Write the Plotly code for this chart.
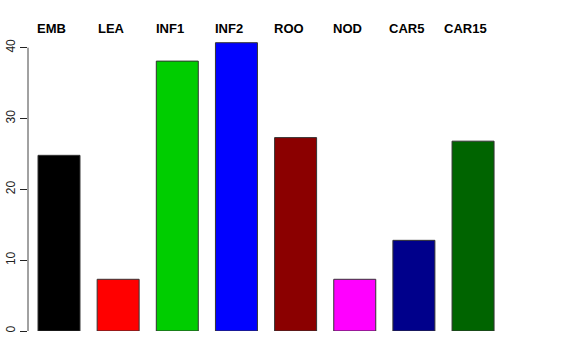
import plotly.graph_objects as go

categories = ["EMB", "LEA", "INF1", "INF2", "ROO", "NOD", "CAR5", "CAR15"]
values = [24.8, 7.3, 38.1, 40.7, 27.3, 7.3, 12.8, 26.8]
colors = ["#000000", "#FF0000", "#00CD00", "#0000FF", "#8B0000", "#FF00FF", "#00008B", "#006400"]
y_ticks = [0, 10, 20, 30, 40]

xpos = list(range(len(categories)))

fig = go.Figure()
fig.add_trace(go.Bar(
    x=xpos, y=values,
    marker=dict(color=colors, line=dict(color="#333333", width=1)),
    width=0.71,
    hoverinfo="skip",
))

for i, c in enumerate(categories):
    fig.add_annotation(
        x=i - 0.12, y=1.045, xref="x", yref="paper",
        text="<b>%s</b>" % c, showarrow=False,
        font=dict(family="Liberation Sans, Arial", size=13, color="black"),
        xanchor="center", yanchor="middle",
    )

# R-style axis line spanning only the tick range
fig.add_shape(type="line", xref="paper", yref="y", x0=0, x1=0,
              y0=y_ticks[0], y1=y_ticks[-1], line=dict(color="#444444", width=1))

fig.update_layout(
    width=576, height=360,
    margin=dict(l=28, r=16, t=42, b=29, autoexpand=False),
    plot_bgcolor="white", paper_bgcolor="white",
    showlegend=False,
    xaxis=dict(range=[-0.524, 8.47], showticklabels=False, showgrid=False,
               zeroline=False, showline=False, ticks="", automargin=False),
    yaxis=dict(range=[0, 40.8], tickvals=y_ticks, ticktext=[str(v) for v in y_ticks],
               ticks="outside", ticklen=7, tickcolor="#222222", tickwidth=1,
               tickangle=-90, showgrid=False, zeroline=False, showline=False,
               automargin=False,
               tickfont=dict(family="Liberation Sans, Arial", size=12, color="#222222")),
)

fig.write_html("out.html",
               config={"displayModeBar": False, "staticPlot": True},
               post_script="document.body.style.margin='0';document.body.style.overflow='hidden';")
